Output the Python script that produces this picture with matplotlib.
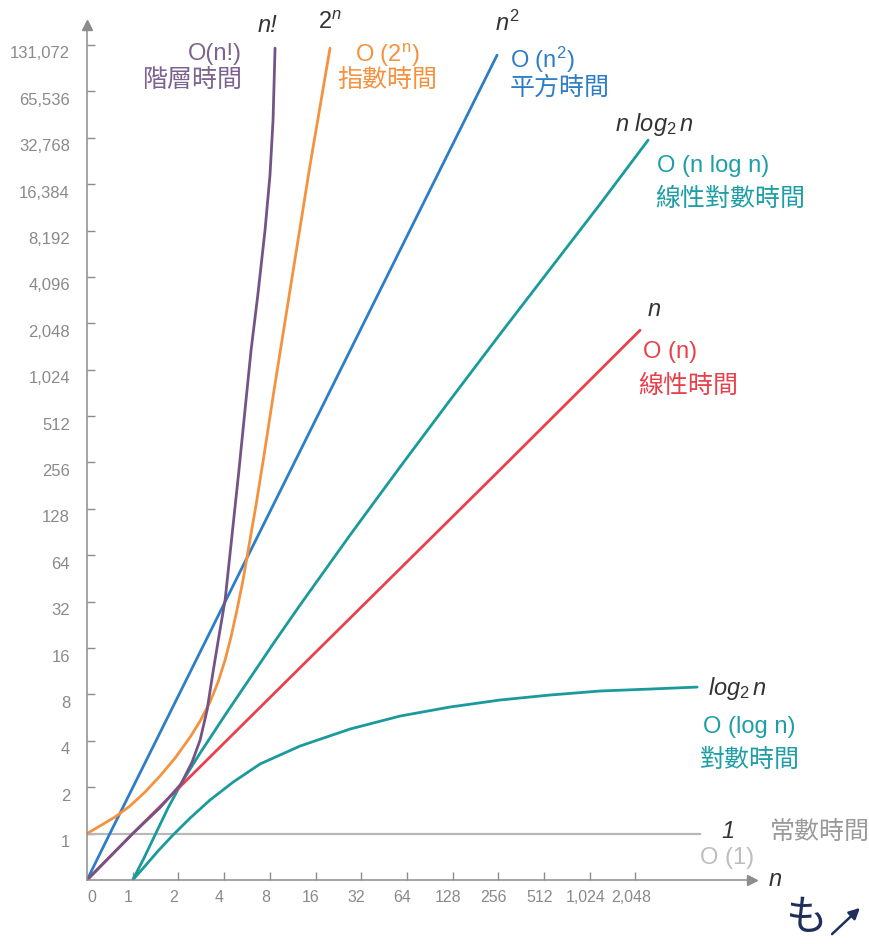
import numpy as np
import matplotlib
matplotlib.use("Agg")
import matplotlib.pyplot as plt
from matplotlib.patches import FancyArrowPatch
from matplotlib.transforms import ScaledTranslation

plt.rcParams["mathtext.fontset"] = "custom"
plt.rcParams["mathtext.rm"] = "Liberation Sans"
plt.rcParams["mathtext.it"] = "Liberation Sans:italic"

CJK = ["Noto Sans CJK TC", "DejaVu Sans"]
LATIN = ["Liberation Sans", "DejaVu Sans"]

# axis ticks
x_ticks = [1, 2, 4, 8, 16, 32, 64, 128, 256, 512, 1024, 2048]
y_ticks = [1, 2, 4, 8, 16, 32, 64, 128, 256, 512, 1024, 2048, 4096,
           8192, 16384, 32768, 65536, 131072]

# curves, (n, time) pairs
const_n = [0, 5440]
const_t = [1, 1]

log_n = [1.0, 1.205, 1.468, 1.843, 2.39, 3.23, 4.59, 6.90, 12.65, 27.0,
         57.6, 123.1, 262.7, 560.7, 1197, 2555, 5213]
log_t = [0.0, 0.30, 0.625, 0.97, 1.262, 1.652, 2.16, 2.83, 3.70, 4.77,
         5.79, 6.63, 7.36, 7.93, 8.42, 8.67, 8.93]

lin_n = [0, 1, 16, 256, 2195]
lin_t = [0, 1, 15, 224, 1846]

nlog_n = [1.0, 1.187, 1.403, 1.708, 2.113, 2.78, 4.06, 5.93, 8.66, 12.65,
          27.0, 57.6, 123.1, 262.7, 560.7, 1197, 2480]
nlog_t = [0.0, 0.474, 0.97, 1.466, 2.162, 3.333, 5.88, 10.22, 17.77, 30.4,
          86.5, 239, 650, 1743, 4602, 12150, 31600]

sq_n = [0, 0.5, 4, 251]
sq_t = [0, 1, 31, 112500]

exp_n = [0, 0.28, 0.61, 0.94, 1.205, 1.51, 1.90, 2.39, 2.78, 3.23, 3.65,
         4.06, 4.44, 4.86, 5.33, 5.84, 6.49, 7.33, 8.53, 10.87, 14.72, 19.93]
exp_t = [1, 1.12, 1.28, 1.51, 1.86, 2.36, 3.09, 4.23, 5.38, 7.14, 9.63,
         13.4, 18.9, 28.2, 44.2, 74.5, 135.5, 286, 755, 3364, 21750, 124900]

fact_n = [0, 0.5, 1, 1.51, 2.08, 2.46, 2.78, 3.09, 3.38, 3.70, 4.06, 4.51,
          5.01, 5.49, 6.02, 6.69, 7.44, 8.02, 8.40, 8.66]
fact_t = [0, 0.5, 1, 1.47, 2.10, 2.91, 4.05, 6.34, 11.18, 19.15, 32.8, 86.5,
          228.5, 560, 1372, 3215, 8243, 18740, 42620, 124900]


# 0..1 stays linear, above 1 every doubling takes one unit
def fwd(x):
    x = np.asarray(x, dtype=float)
    return np.where(x >= 1, np.log2(np.maximum(x, 1)) + 1, x)


def inv(u):
    u = np.asarray(u, dtype=float)
    return np.where(u >= 1, 2.0 ** (np.minimum(u, 60) - 1), u)


W, H = 869, 944
fig = plt.figure(figsize=(W / 100, H / 100), dpi=100)
ax = fig.add_axes([87 / W, 64 / H, 665 / W, 855 / H])
ax.set_xscale("function", functions=(fwd, inv))
ax.set_yscale("function", functions=(fwd, inv))
ax.set_xlim(0, 11990)
ax.set_ylim(0, 176600)

grey = "#8c8c8c"
lw = 2.0
style = dict(lw=lw, solid_joinstyle="round", solid_capstyle="round")
ax.plot(const_n, const_t, color="#b8b8b8", lw=1.6)
ax.plot(log_n, log_t, color="#1b9a9c", **style)
ax.plot(nlog_n, nlog_t, color="#1b9a9c", **style)
ax.plot(lin_n, lin_t, color="#e8414c", **style)
ax.plot(sq_n, sq_t, color="#2f7dc6", **style)
ax.plot(exp_n, exp_t, color="#f4923f", **style)
ax.plot(fact_n, fact_t, color="#745486", **style)

for side in ["top", "right"]:
    ax.spines[side].set_visible(False)
for side in ["left", "bottom"]:
    ax.spines[side].set_color(grey)
    ax.spines[side].set_linewidth(1.1)
ax.plot([1], [0], marker=">", ms=7, color=grey, transform=ax.transAxes, clip_on=False)
ax.plot([0], [1], marker="^", ms=7, color=grey, transform=ax.transAxes, clip_on=False)

ax.set_xticks(x_ticks)
ax.set_yticks(y_ticks)
ax.minorticks_off()
ax.tick_params(direction="in", length=6, width=1, color=grey,
               labelleft=False, labelbottom=False)

# tick labels sit a little off their tick marks
ylab_tr = ax.get_yaxis_transform() + ScaledTranslation(-0.17, -0.09, fig.dpi_scale_trans)
for v in y_ticks:
    ax.text(0, v, f"{v:,}", transform=ylab_tr, ha="right", va="center",
            fontsize=12, color="#8a8a8a", family=LATIN)
xlab_tr = ax.get_xaxis_transform() + ScaledTranslation(-0.045, -0.17, fig.dpi_scale_trans)
zero_tr = ax.get_xaxis_transform() + ScaledTranslation(0.05, -0.17, fig.dpi_scale_trans)
for v in [0] + x_ticks:
    ax.text(v, 0, f"{v:,}", transform=xlab_tr if v else zero_tr, ha="center",
            va="center", fontsize=11.5, color="#8a8a8a", family=LATIN)


def put(px, py, s, color, ha="left", size=17, style="normal", family=LATIN):
    fig.text(px / W, 1 - py / H, s, ha=ha, va="center", color=color,
             fontsize=size, style=style, family=family)


dark = "#333333"
purple, orange, blue = "#7d6390", "#f4923f", "#2f7dc6"
teal, red = "#1f9ea6", "#e8414c"
cjk = 18

put(267, 25, "n!", dark, ha="center", style="italic")
put(242, 54, "O(n!)", purple, ha="right")
put(242, 80, "階層時間", purple, ha="right", size=cjk, family=CJK)

put(330, 23, r"$\mathit{2}^{n}$", dark, ha="center")
put(355, 55, r"O (2$^{\mathrm{n}}$)", orange)
put(337, 80, "指數時間", orange, size=cjk, family=CJK)

put(507, 23, r"$n^{\mathrm{2}}$", dark, ha="center")
put(510, 60, r"O (n$^{\mathrm{2}}$)", blue)
put(510, 88, "平方時間", blue, size=cjk, family=CJK)

put(615, 124, r"$n\ log_{\mathrm{2}}\,n$", dark)
put(657, 166, "O (n log n)", teal)
put(655, 199, "線性對數時間", teal, size=cjk, family=CJK)

put(654, 310, "n", dark, ha="center", style="italic")
put(643, 352, "O (n)", red)
put(638, 386, "線性時間", red, size=cjk, family=CJK)

put(708, 689, r"$log_{\mathrm{2}}\,n$", dark)
put(703, 727, "O (log n)", teal)
put(700, 760, "對數時間", teal, size=cjk, family=CJK)

put(728, 832, "1", dark, ha="center", style="italic")
put(770, 832, "常數時間", "#9a9a9a", size=cjk, family=CJK)
put(700, 858, "O (1)", "#bdbdbd")

put(775, 880, "n", dark, ha="center", style="italic")

# pen note in the corner
put(806, 918, "も", "#1f2f5c", ha="center", size=30,
    family=["Noto Sans CJK JP", "DejaVu Sans"])
fig.add_artist(FancyArrowPatch(
    (830 / W, 1 - 936 / H), (862 / W, 1 - 906 / H), transform=fig.transFigure,
    arrowstyle="-|>", mutation_scale=16, color="#1f2f5c", lw=1.8))

fig.savefig("out.png", dpi=100)
